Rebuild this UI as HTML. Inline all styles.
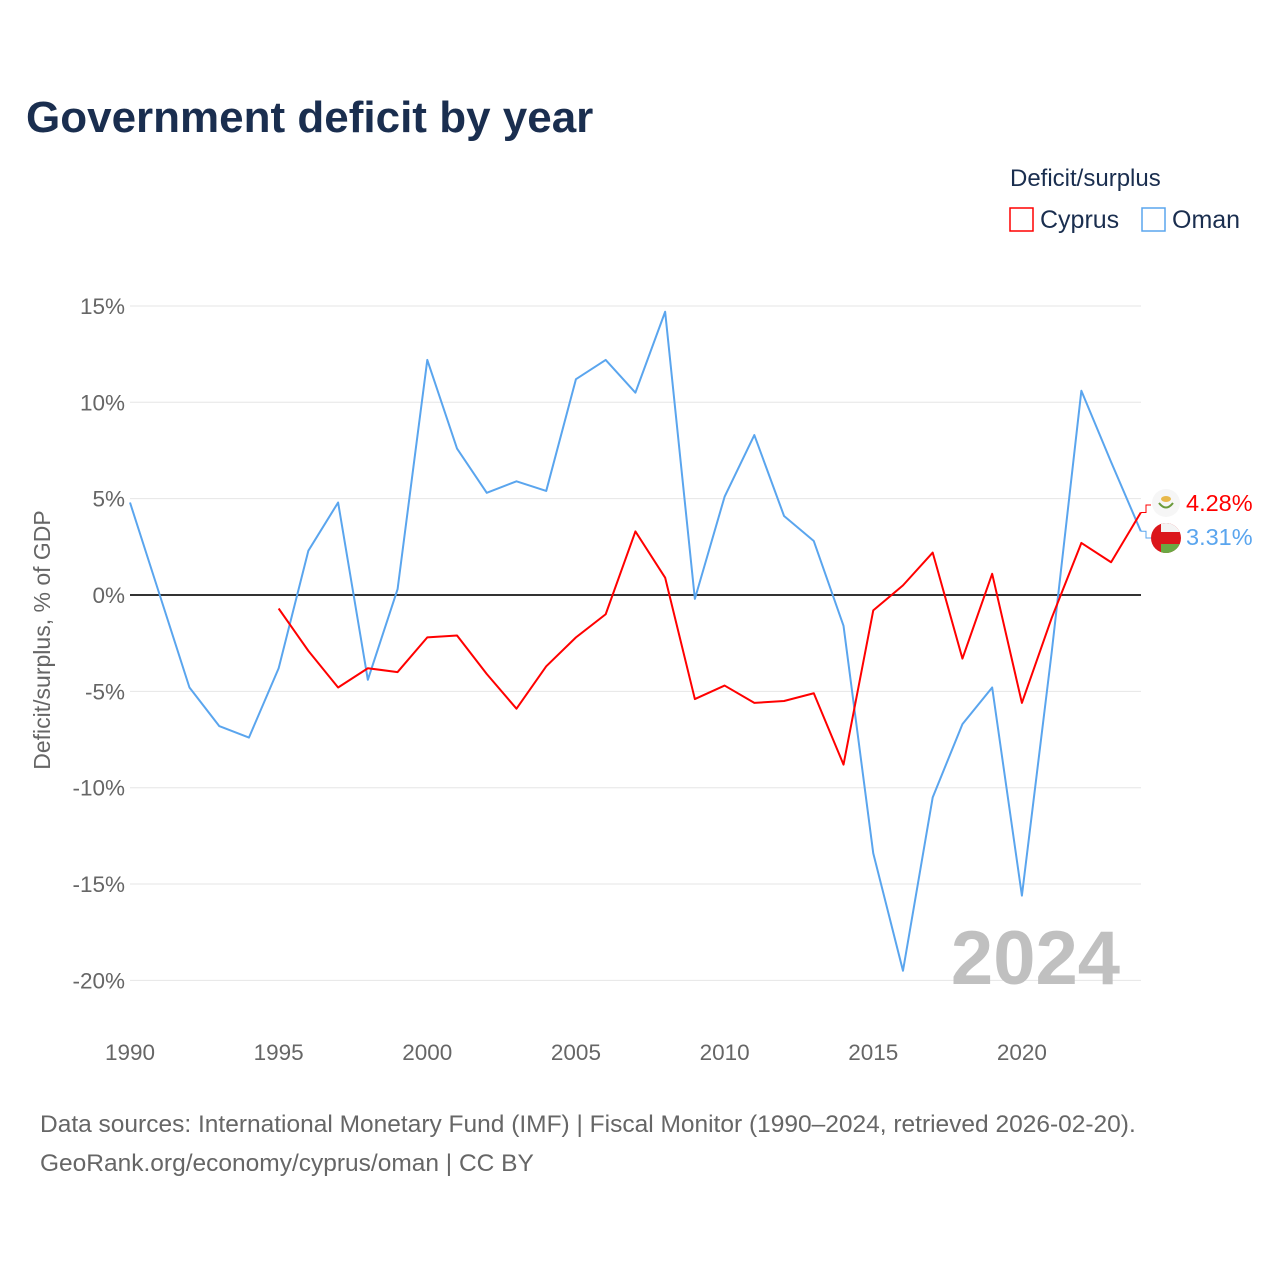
<!DOCTYPE html>
<html><head><meta charset="utf-8"><style>
body{margin:0;background:#fff;font-family:"Liberation Sans",sans-serif;}
svg text{font-family:"Liberation Sans",sans-serif;}
</style></head><body>
<svg width="1280" height="1280" viewBox="0 0 1280 1280" xmlns="http://www.w3.org/2000/svg">
<defs><clipPath id="oc"><circle cx="1166" cy="538" r="15"/></clipPath></defs>
<text x="26" y="132" font-size="44" font-weight="bold" fill="#1a2e4f">Government deficit by year</text>
<text x="1010" y="186" font-size="24" fill="#1a2e4f">Deficit/surplus</text>
<g><rect x="1010" y="208" width="23" height="23" fill="none" stroke="#ff0000" stroke-width="1.5"/><text x="1040" y="228" font-size="25" fill="#1a2e4f">Cyprus</text></g>
<g><rect x="1142" y="208" width="23" height="23" fill="none" stroke="#5aa5ee" stroke-width="1.5"/><text x="1172" y="228" font-size="25" fill="#1a2e4f">Oman</text></g>
<g id="grid"></g><g id="yt"></g><g id="xt"></g>
<text transform="translate(50,640) rotate(-90)" text-anchor="middle" font-size="23" fill="#666">Deficit/surplus, % of GDP</text>
<text x="1120" y="984" text-anchor="end" font-size="76" font-weight="bold" fill="#c0c0c0">2024</text>
<g id="lines"></g>
<g clip-path="url(#oc)">
<rect x="1150" y="522" width="32" height="32" fill="#db161b"/>
<rect x="1161" y="522" width="22" height="10" fill="#f4f4f4"/>
<rect x="1161" y="544" width="22" height="10" fill="#6aa843"/>
</g>
<text x="40" y="1132" font-size="24.5" fill="#666">Data sources: International Monetary Fund (IMF) | Fiscal Monitor (1990–2024, retrieved 2026-02-20).</text>
<text x="40" y="1171" font-size="24.5" fill="#666">GeoRank.org/economy/cyprus/oman | CC BY</text>
</svg>
<script>
const years=[1990,1991,1992,1993,1994,1995,1996,1997,1998,1999,2000,2001,2002,2003,2004,2005,2006,2007,2008,2009,2010,2011,2012,2013,2014,2015,2016,2017,2018,2019,2020,2021,2022,2023,2024];
const oman=[4.8,0,-4.8,-6.8,-7.4,-3.8,2.3,4.8,-4.4,0.3,12.2,7.6,5.3,5.9,5.4,11.2,12.2,10.5,14.7,-0.2,5.1,8.3,4.1,2.8,-1.6,-13.4,-19.5,-10.5,-6.7,-4.8,-15.6,-3,10.6,6.9,3.31];
const cyprus=[null,null,null,null,null,-0.7,-2.9,-4.8,-3.8,-4.0,-2.2,-2.1,-4.1,-5.9,-3.7,-2.2,-1.0,3.3,0.9,-5.4,-4.7,-5.6,-5.5,-5.1,-8.8,-0.8,0.5,2.2,-3.3,1.1,-5.6,-1.2,2.7,1.7,4.28];
const yTicks=[15,10,5,0,-5,-10,-15,-20];
const xTicks=[1990,1995,2000,2005,2010,2015,2020];
const NS="http://www.w3.org/2000/svg";
const X=v=>130+(v-1990)*29.73, Y=v=>595-v*19.27;
function mk(t,a,p){const e=document.createElementNS(NS,t);for(const k in a)e.setAttribute(k,a[k]);document.getElementById(p).appendChild(e);return e;}
yTicks.forEach(t=>{
 const l=mk('line',{x1:130,x2:1141,y1:Y(t),y2:Y(t),stroke:t===0?'#333':'#e6e6e6','stroke-width':t===0?2:1},'grid');
 
 
 const tx=mk('text',{x:125,y:Y(t)+8,'text-anchor':'end','font-size':22.5,fill:'#666'},'yt');
 tx.textContent=t+'%';
 
 
});
xTicks.forEach(t=>{
 const tx=mk('text',{x:X(t),y:1060,'text-anchor':'middle','font-size':22.5,fill:'#666'},'xt');
 tx.textContent=t;
 
 
});
function line(vals,col,name){
 let d='';vals.forEach((v,i)=>{if(v===null)return;d+=(d?'L':'M')+X(years[i])+','+Y(v);});
 const p=mk('path',{d:d,fill:'none',stroke:col,'stroke-width':2,'stroke-linejoin':'round'},'lines');
 
 
}
line(oman,'#5aa5ee','oman-line');
line(cyprus,'#ff0000','cyprus-line');
const lc=cyprus[cyprus.length-1], lo=oman[oman.length-1];
const yc=Y(lc), yo=Y(lo);
const c1=mk('path',{d:`M${X(2024)},${yc} L1146,${yc} L1146,505 L1151,505`,fill:'none',stroke:'#ff0000','stroke-width':1},'lines');

const c2=mk('path',{d:`M${X(2024)},${yo} L1146,${yo} L1146,538 L1151,538`,fill:'none',stroke:'#5aa5ee','stroke-width':1},'lines');

const f1=mk('circle',{cx:1166,cy:503,r:14,fill:'#f6f6f6'},'lines');

const f1b=mk('path',{d:'M1159,503 Q1166,512 1173,503',fill:'none',stroke:'#6a9a3a','stroke-width':2},'lines');

const f1c=mk('ellipse',{cx:1166,cy:499,rx:5,ry:3,fill:'#e8b84a'},'lines');

const t1=mk('text',{x:1186,y:511,'font-size':23.5,fill:'#ff0000'},'lines');
t1.textContent=lc.toFixed(2)+'%';

const t2=mk('text',{x:1186,y:545,'font-size':23.5,fill:'#5aa5ee'},'lines');
t2.textContent=lo.toFixed(2)+'%';

</script>
</body></html>
